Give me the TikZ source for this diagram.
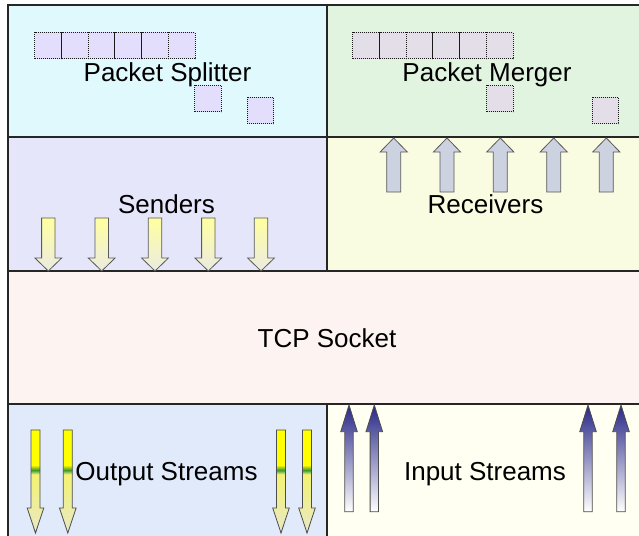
\documentclass[tikz,border=0pt]{standalone}
\usepackage{fontspec}
\setmainfont{Liberation Sans}
\usetikzlibrary{positioning}

\definecolor{splitbg}{RGB}{224,249,252}
\definecolor{mergebg}{RGB}{224,244,224}
\definecolor{sendbg}{RGB}{230,230,250}
\definecolor{recvbg}{RGB}{250,252,226}
\definecolor{tcpbg}{RGB}{253,244,242}
\definecolor{outbg}{RGB}{224,234,250}
\definecolor{inbg}{RGB}{255,255,242}
\definecolor{splitpkt}{RGB}{226,222,252}
\definecolor{mergepkt}{RGB}{228,222,232}
\definecolor{sendtop}{RGB}{255,255,160}
\definecolor{sendbot}{RGB}{235,235,225}
\definecolor{recvfill}{RGB}{205,210,225}
\definecolor{streamyellow}{RGB}{255,255,0}
\definecolor{streamgreen}{RGB}{60,150,50}
\definecolor{streamlight}{RGB}{242,242,120}
\definecolor{streampale}{RGB}{232,232,200}
\definecolor{instop}{RGB}{40,40,135}

\pgfdeclareverticalshading{outstream}{100bp}{color(0bp)=(streampale); color(25bp)=(streampale);
  color(51bp)=(streamlight); color(53.5bp)=(streamlight); color(55.5bp)=(streamgreen);
  color(58bp)=(streamyellow); color(75bp)=(streamyellow); color(100bp)=(streamyellow)}

% x, y tail, y head, y tip, half shaft, half head
\newcommand{\blockarrow}[7]{%
  \path[#1] (#2-#6,#3) -- (#2-#6,#4) -- (#2-#7,#4) -- (#2,#5) -- (#2+#7,#4)
    -- (#2+#6,#4) -- (#2+#6,#3) -- cycle;}

\begin{document}
\begin{tikzpicture}[x=1pt,y=-1pt,
  panel/.style={draw=black!85,line width=1.2pt},
  label/.style={font=\fontsize{26}{30}\selectfont,anchor=base,inner sep=0pt},
  pkt/.style={draw=black!90,densely dotted,line width=1pt,minimum size=26.7pt,inner sep=0pt},
  sendarrow/.style={draw=black!65,line width=0.8pt,top color=sendtop,bottom color=sendbot},
  recvarrow/.style={draw=black!65,line width=0.8pt,fill=recvfill},
  outarrow/.style={draw=black!70,line width=0.8pt,shading=outstream},
  inarrow/.style={draw=black!70,line width=0.8pt,top color=instop,bottom color=white}]
  \useasboundingbox (0,0) rectangle (639,535);
  \clip (0,0) rectangle (639,535);

  \draw[panel,fill=splitbg] (8,5) rectangle (327,137);
  \draw[panel,fill=mergebg] (327,5) rectangle (646,137);
  \draw[panel,fill=sendbg] (8,137) rectangle (327,271);
  \draw[panel,fill=recvbg] (327,137) rectangle (646,271);
  \draw[panel,fill=tcpbg] (8,271) rectangle (646,404);
  \draw[panel,fill=outbg] (8,404) rectangle (327,545);
  \draw[panel,fill=inbg] (327,404) rectangle (646,545);

  \foreach \i in {0,...,5}
    \node[pkt,fill=splitpkt] (split\i) at (48.3+26.67*\i,45.5) {};
  \node[pkt,fill=splitpkt] (split6) at (208,98.5) {};
  \node[pkt,fill=splitpkt] (split7) at (260.5,110.5) {};
  \foreach \i in {0,...,5}
    \node[pkt,fill=mergepkt] (merge\i) at (366.3+26.67*\i,45.5) {};
  \node[pkt,fill=mergepkt] (merge6) at (500,98.5) {};
  \node[pkt,fill=mergepkt] (merge7) at (605.5,110.5) {};

  \foreach \x in {48.3,101.7,155,208.3,261}
    \blockarrow{sendarrow}{\x}{218}{258}{271}{6.7}{13.4};
  \foreach \x in {393.7,447,500.3,553.7,606.3}
    \blockarrow{recvarrow}{\x}{192}{152}{138}{7}{13.6};
  \foreach \x in {35.5,67.8,281,307}
    \blockarrow{outarrow}{\x}{430}{508}{533}{4.5}{8.3};
  \foreach \x in {349,374.3,588,621}
    \blockarrow{inarrow}{\x}{511.7}{431.7}{405}{4.2}{8.3};

  \node[label] (splitter) at (167.5,81.7) {Packet Splitter};
  \node[label] (merger) at (487,81.7) {Packet Merger};
  \node[label] (senders) at (166.5,213.3) {Senders};
  \node[label] (receivers) at (485.5,213.3) {Receivers};
  \node[label] (tcp) at (327,347.3) {TCP Socket};
  \node[label] (outstreams) at (166.5,480) {Output Streams};
  \node[label] (instreams) at (485,480) {Input Streams};
\end{tikzpicture}
\end{document}
